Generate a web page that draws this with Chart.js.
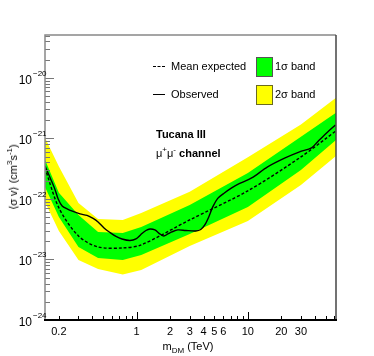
<!DOCTYPE html>
<html lang="en">
<head>
<meta charset="UTF-8">
<title>Tucana III - mu+mu- channel limits</title>
<script src="https://cdn.jsdelivr.net/npm/chart.js"></script>
<style>
    body {
        margin: 0;
        background: #fff;
        font-family: "Liberation Sans", Arial, sans-serif;
    }
    #wrap {
        position: relative;
        width: 374px;
        height: 356px;
    }
    canvas {
        position: absolute;
        left: 0;
        top: 0;
    }
    .lbl {
        position: absolute;
        white-space: nowrap;
        font-size: 11px;
        line-height: 12px;
        color: #000;
    }
    .box {
        position: absolute;
        width: 15px;
        height: 18px;
        border: 1px solid #555;
    }
    sup, sub { font-size: 8px; line-height: 0; }
</style>
</head>
<body>
<div id="wrap">
    <canvas id="limitChart" width="374" height="356"></canvas>

    <!-- legend -->
    <div style="position:absolute;left:153px;top:66px;width:12px;border-top:1px dashed #000;"></div>
    <div class="lbl" style="left:171px;top:60px;">Mean expected</div>
    <div style="position:absolute;left:153px;top:94px;width:12px;border-top:1.5px solid #000;"></div>
    <div class="lbl" style="left:171px;top:88px;">Observed</div>
    <div class="box" style="left:256px;top:57px;background:#00ff00;"></div>
    <div class="lbl" style="left:275px;top:60px;">1σ band</div>
    <div class="box" style="left:256px;top:85px;background:#ffff00;border-color:#6b6b20;"></div>
    <div class="lbl" style="left:275px;top:88px;">2σ band</div>

    <!-- annotation -->
    <div class="lbl" style="left:156px;top:128px;font-weight:bold;">Tucana III</div>
    <div class="lbl" style="left:156px;top:147px;">μ<sup>+</sup>μ<sup>-</sup> <b>channel</b></div>

    <!-- axis titles -->
    <div class="lbl" style="left:188px;top:340px;transform:translateX(-50%);">m<sub>DM</sub> (TeV)</div>
    <div class="lbl" style="left:13px;top:177px;transform:translate(-50%,-50%) rotate(-90deg);">⟨σ v⟩ (cm<sup>3</sup>s<sup>-1</sup>)</div>
</div>

<script>
    // band / expected limit, mass in TeV, <sigma v> in cm^3 s^-1
    const bandMass = [0.15, 0.2, 0.3, 0.45, 0.75, 1.1, 3, 10, 30, 62];
    const yellowUp = [1.02e-21, 3.42e-22, 8.59e-23, 4.67e-23, 4.50e-23, 5.87e-23, 1.31e-22, 4.9e-22, 1.7e-21, 4.67e-21];
    const greenUp  = [4.42e-22, 1.26e-22, 5.45e-23, 2.85e-23, 2.74e-23, 3.44e-23, 7.96e-23, 2.69e-22, 1.06e-21, 2.64e-21];
    const greenLo  = [1.58e-22, 5.04e-23, 1.61e-23, 1.06e-23, 9.83e-24, 1.19e-23, 2.64e-23, 7.38e-23, 3.01e-22, 9.44e-22];
    const yellowLo = [8.91e-23, 2.96e-23, 9.83e-24, 6.97e-24, 5.65e-24, 6.70e-24, 1.67e-23, 4.32e-23, 1.70e-22, 5.14e-22];
    const expected = [3.25e-22, 7.10e-23, 2.44e-23, 1.61e-23, 1.55e-23, 1.74e-23, 4.5e-23, 1.36e-22, 4.94e-22, 1.33e-21];

    // observed limit
    const obsMass = [0.15, 0.157, 0.17, 0.185, 0.197, 0.214, 0.237, 0.268, 0.31, 0.358, 0.406, 0.45,
        0.509, 0.576, 0.652, 0.738, 0.871, 0.986, 1.093, 1.212, 1.316, 1.459, 1.618, 1.757, 1.909,
        2.073, 2.346, 2.768, 3.403, 3.773, 4.099, 4.45, 4.834, 5.359, 6.067, 7.155, 8.444, 10.82,
        15.05, 21.38, 29.15, 37.35, 42.27, 48.84, 61.3];
    const obsVal = [3.51e-22, 2.90e-22, 2.06e-22, 1.41e-22, 1.0e-22, 7.66e-23, 6.84e-23, 6.21e-23,
        5.65e-23, 5.33e-23, 4.76e-23, 4.17e-23, 3.32e-23, 2.79e-23, 2.40e-23, 2.18e-23, 2.06e-23,
        2.18e-23, 2.59e-23, 3.01e-23, 3.19e-23, 3.08e-23, 2.64e-23, 2.44e-23, 2.64e-23, 2.85e-23,
        3.08e-23, 3.01e-23, 2.96e-23, 3.13e-23, 3.72e-23, 5.04e-23, 7.38e-23, 1.02e-22, 1.23e-22,
        1.52e-22, 1.80e-22, 2.22e-22, 3.38e-22, 4.71e-22, 5.98e-22, 6.97e-22, 8.75e-22, 1.14e-21,
        1.67e-21];

    // tick labels
    const xTickLabels = [0.2, 1, 2, 3, 4, 5, 6, 10, 20, 30];
    const yDecades = [-24, -23, -22, -21, -20];

    const pts = (xs, ys) => xs.map((m, i) => ({ x: m, y: ys[i] }));

    // ROOT-like frame, inward ticks and labels
    const rootAxes = {
        id: 'rootAxes',
        afterDatasetsDraw(chart) {
            const ctx = chart.ctx;
            const a = chart.chartArea;
            const xs = chart.scales.x;
            const ys = chart.scales.y;
            ctx.save();

            // x ticks
            ctx.strokeStyle = '#000';
            ctx.lineWidth = 1;
            for (let d = -1; d <= 1; d++) {
                for (let k = 1; k <= 9; k++) {
                    const v = k * Math.pow(10, d);
                    if (v < xs.min || v > xs.max) continue;
                    const px = Math.round(xs.getPixelForValue(v)) + 0.5;
                    const len = k === 1 ? 8 : 4;
                    ctx.beginPath();
                    ctx.moveTo(px, a.bottom);
                    ctx.lineTo(px, a.bottom - len);
                    ctx.stroke();
                }
            }

            // y ticks
            ctx.strokeStyle = '#777';
            for (const d of yDecades) {
                for (let k = 1; k <= 9; k++) {
                    const v = k * Math.pow(10, d);
                    if (v > ys.max) continue;
                    const py = Math.round(ys.getPixelForValue(v)) + 0.5;
                    const len = k === 1 ? 9 : 5;
                    ctx.beginPath();
                    ctx.moveTo(a.left, py);
                    ctx.lineTo(a.left + len, py);
                    ctx.stroke();
                }
            }

            // frame
            ctx.lineWidth = 1.5;
            ctx.strokeStyle = '#888';
            ctx.beginPath();
            ctx.moveTo(a.left, a.bottom);
            ctx.lineTo(a.left, a.top);
            ctx.lineTo(a.right, a.top);
            ctx.stroke();
            ctx.strokeStyle = '#444';
            ctx.beginPath();
            ctx.moveTo(a.right, a.top);
            ctx.lineTo(a.right, a.bottom);
            ctx.stroke();
            ctx.lineWidth = 2;
            ctx.strokeStyle = '#000';
            ctx.beginPath();
            ctx.moveTo(a.left - 1, a.bottom);
            ctx.lineTo(a.right + 1, a.bottom);
            ctx.stroke();

            // x labels
            ctx.fillStyle = '#000';
            ctx.font = '11px "Liberation Sans", Arial, sans-serif';
            ctx.textAlign = 'center';
            ctx.textBaseline = 'alphabetic';
            for (const v of xTickLabels) {
                ctx.fillText(String(v), xs.getPixelForValue(v), a.bottom + 15);
            }

            // y labels 10^n
            for (const d of yDecades) {
                const py = ys.getPixelForValue(Math.pow(10, d));
                ctx.font = '12px "Liberation Sans", Arial, sans-serif';
                ctx.textAlign = 'right';
                ctx.fillText('10', 32, py + 6);
                ctx.font = '8px "Liberation Sans", Arial, sans-serif';
                ctx.textAlign = 'left';
                ctx.fillText('\u2212' + Math.abs(d), 33, py - 2);
            }
            ctx.restore();
        }
    };

    const ctx = document.getElementById('limitChart').getContext('2d');
    const limitChart = new Chart(ctx, {
        type: 'line',
        data: {
            datasets: [
                {
                    label: 'Observed',
                    data: pts(obsMass, obsVal),
                    borderColor: '#000',
                    borderWidth: 1.4,
                    tension: 0.3,
                    fill: false
                },
                {
                    label: 'Mean expected',
                    data: pts(bandMass, expected),
                    borderColor: '#000',
                    borderWidth: 1.4,
                    borderDash: [3, 2],
                    tension: 0.3,
                    fill: false
                },
                {
                    label: '1 sigma up',
                    data: pts(bandMass, greenUp),
                    borderWidth: 0,
                    backgroundColor: '#00ff00',
                    fill: '+1'
                },
                {
                    label: '1 sigma down',
                    data: pts(bandMass, greenLo),
                    borderWidth: 0,
                    fill: false
                },
                {
                    label: '2 sigma up',
                    data: pts(bandMass, yellowUp),
                    borderWidth: 0,
                    backgroundColor: '#ffff00',
                    fill: '+1'
                },
                {
                    label: '2 sigma down',
                    data: pts(bandMass, yellowLo),
                    borderWidth: 0,
                    fill: false
                }
            ]
        },
        options: {
            responsive: false,
            animation: false,
            events: [],
            elements: { point: { radius: 0 } },
            layout: { padding: { top: 35, right: 38, left: 0, bottom: 0 } },
            plugins: {
                legend: { display: false },
                tooltip: { enabled: false }
            },
            scales: {
                x: {
                    type: 'logarithmic',
                    min: 0.15,
                    max: 62,
                    grid: { display: false },
                    border: { display: false },
                    ticks: { display: false },
                    afterFit: s => { s.height = 36; }
                },
                y: {
                    type: 'logarithmic',
                    min: 1e-24,
                    max: 5.1e-20,
                    grid: { display: false },
                    border: { display: false },
                    ticks: { display: false },
                    afterFit: s => { s.width = 45; }
                }
            }
        },
        plugins: [rootAxes]
    });
</script>
</body>
</html>
